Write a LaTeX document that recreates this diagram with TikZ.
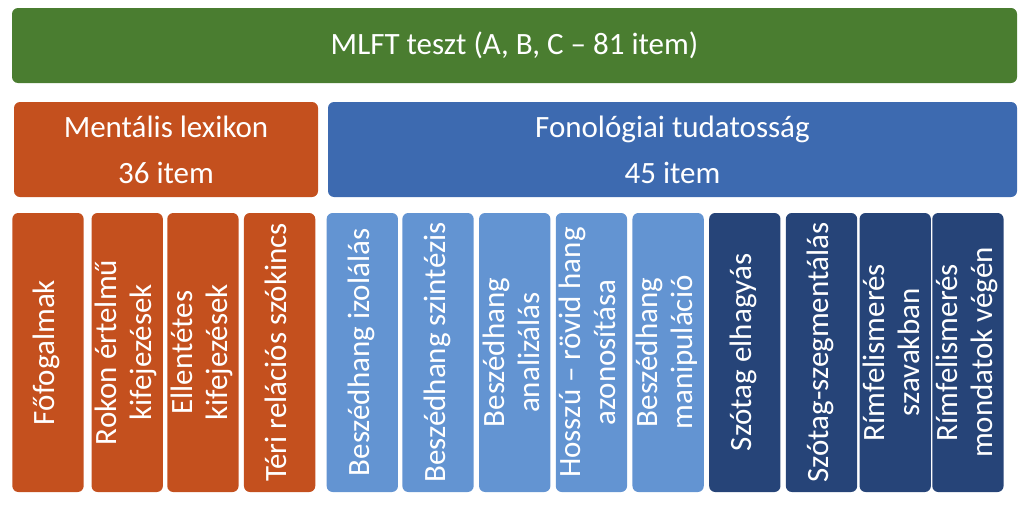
\documentclass[tikz,border=0pt]{standalone}
\usepackage{graphicx}
\usepackage{fontspec}
\setmainfont{Carlito}
\usetikzlibrary{positioning}

\definecolor{mlftgreen}{HTML}{4A7D30}
\definecolor{lexorange}{HTML}{C4501E}
\definecolor{fonblue}{HTML}{3D6AB0}
\definecolor{fonlight}{HTML}{6394D2}
\definecolor{fondark}{HTML}{264478}

\newcommand{\vtext}[1]{\rotatebox{90}{\begin{tabular}{@{}c@{}}#1\end{tabular}}}

\begin{document}
\begin{tikzpicture}[
        x=1pt, y=-1pt,
        node distance=5pt,
        bar/.style={rounded corners=6pt, text=white, inner sep=0pt, align=center, font=\fontsize{31}{46}\selectfont},
        header/.style={bar, minimum height=95pt},
        column/.style={rounded corners=6pt, text=white, inner sep=0pt, minimum width=71.3pt, minimum height=279pt, font=\fontsize{31}{35}\selectfont},
        lexcol/.style={column, fill=lexorange},
        lightcol/.style={column, fill=fonlight},
        darkcol/.style={column, fill=fondark}
    ]
    \useasboundingbox (0,0) rectangle (1024,506);

    \node[bar, fill=mlftgreen, minimum width=1005pt, minimum height=75pt] (mlft) at (514.5,45.5) {MLFT teszt (A, B, C – 81 item)};
    \node[header, fill=lexorange, minimum width=304pt] (lexikon) at (166,149.5) {Mentális lexikon\\36 item};
    \node[header, fill=fonblue, minimum width=689pt] (fonol) at (672.5,149.5) {Fonológiai tudatosság\\45 item};

    \node[lexcol] (fofog) at (48,352.5) {\vtext{Főfogalmak}};
    \node[lexcol, right=7.5pt of fofog] (rokon) {\vtext{Rokon értelmű\\kifejezések}};
    \node[lexcol, right=4pt of rokon] (ellent) {\vtext{Ellentétes\\kifejezések}};
    \node[lexcol, right=of ellent] (teri) {\vtext{Téri relációs szókincs}};

    \node[lightcol, right=11pt of teri] (izol) {\vtext{Beszédhang izolálás}};
    \node[lightcol, right=4pt of izol] (szint) {\vtext{Beszédhang szintézis}};
    \node[lightcol, right=of szint] (anal) {\vtext{Beszédhang\\analizálás}};
    \node[lightcol, right=of anal] (hossz) {\vtext{Hosszú – rövid hang\\azonosítása}};
    \node[lightcol, right=of hossz] (manip) {\vtext{Beszédhang\\manipuláció}};

    \node[darkcol, right=of manip] (elhagy) {\vtext{Szótag elhagyás}};
    \node[darkcol, right=of elhagy] (szegm) {\vtext{Szótag-szegmentálás}};
    \node[darkcol, right=2pt of szegm] (rimszo) {\vtext{Rímfelismerés\\szavakban}};
    \node[darkcol, right=1pt of rimszo] (rimmond) {\vtext{Rímfelismerés\\mondatok végén}};

\end{tikzpicture}
\end{document}
